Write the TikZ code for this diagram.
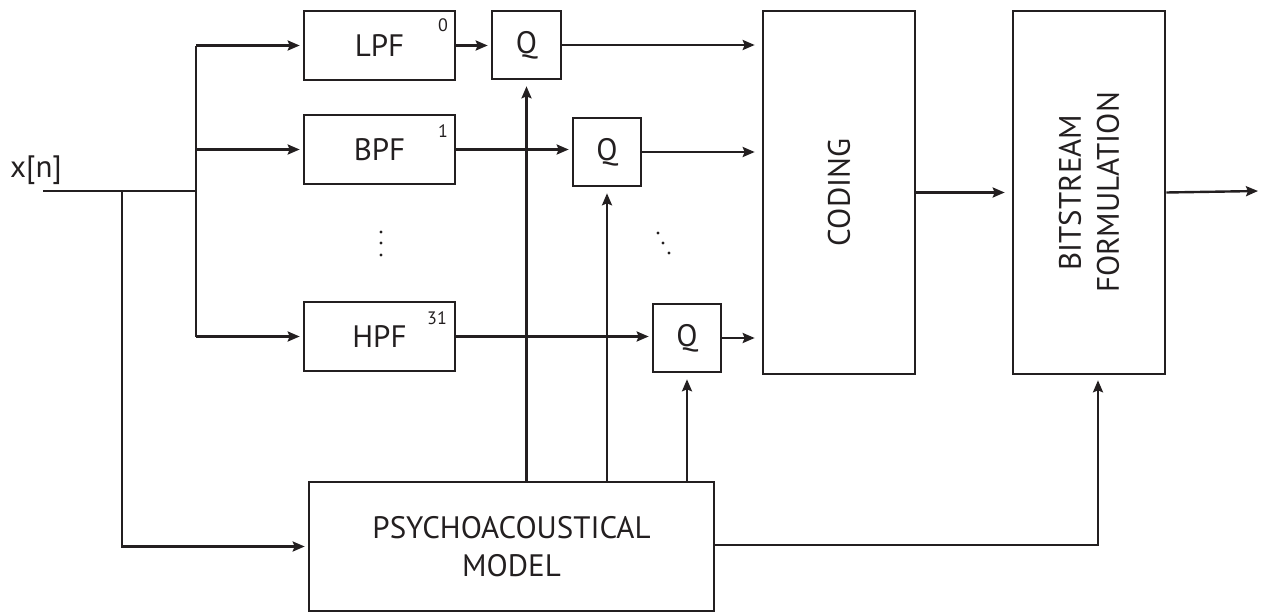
\documentclass[tikz,border=0pt]{standalone}
\usepackage{fontspec}
\setmainfont{PT Sans}
\usepackage{tikz}
\usetikzlibrary{positioning,calc}
\usetikzlibrary{arrows.meta}
\definecolor{InkBlack}{RGB}{35,31,32}
\tikzset{
	blk/.style={draw=InkBlack,line width=2.6pt,inner sep=0pt,text=InkBlack,
		font=\fontsize{31}{38}\selectfont,align=center},
	sig/.style={draw=InkBlack,line width=2.4pt},
	sigarr/.style={sig,-{Stealth[length=12pt,width=10pt,inset=2pt]},shorten >=3pt},
	idx/.style={font=\fontsize{18}{20}\selectfont,inner sep=0pt,text=InkBlack},
}

\begin{document}
\begin{tikzpicture}[x=1pt,y=-1pt]
			\useasboundingbox (0,0) rectangle (1262,613);
			\node[blk,minimum width=151pt,minimum height=69pt] (lpf) at (379.5,45.5) {LPF};
			\node[blk,minimum width=151pt,minimum height=69pt] (bpf) at (379.5,149.5) {BPF};
			\node[blk,minimum width=151pt,minimum height=69pt] (hpf) at (379.5,336.5) {HPF};
			\node[blk,minimum width=69pt,minimum height=68pt] (q0) at (526.5,45) {Q};
			\node[blk,minimum width=68pt,minimum height=68pt] (q1) at (607,152) {Q};
			\node[blk,minimum width=68pt,minimum height=68pt] (q31) at (687,338) {Q};
			\node[blk,rotate=90,minimum width=363pt,minimum height=152pt] (cod) at (839,192.5) {CODING};
			\node[blk,rotate=90,minimum width=363pt,minimum height=152pt] (bits) at (1089,192.5) {BITSTREAM\\FORMULATION};
			\node[blk,minimum width=405pt,minimum height=129pt] (psy) at (511.5,546.5) {PSYCHOACOUSTICAL\\MODEL};
			\node[idx] (n0) at (443,25) {0};
			\node[idx] (n1) at (443,131) {1};
			\node[idx] (n31) at (437,318) {31};
			\node[font=\fontsize{31}{34}\selectfont,text=InkBlack,inner sep=0pt] (xn) at (36,170) {x[n]};
			\coordinate (in) at (43,191);
			\coordinate (tap) at (122,191);
			\coordinate (bus) at (196,191);
			\coordinate (out) at (1258,191);
			\coordinate (side) at (1098,545);
			\draw[sig] (in) -- (bus);
			\draw[sig] (lpf.west -| bus) -- (hpf.west -| bus);
			\foreach \f in {lpf,bpf,hpf}
			\draw[sigarr] (\f.west -| bus) -- (\f.west);
			\draw[sigarr] (tap) |- (psy.west);
			\foreach \f/\q in {lpf/q0,bpf/q1,hpf/q31}
			\draw[sigarr] (\f.east) -- (\f.east -| \q.west);
			\foreach \q in {q0,q1,q31}
			\draw[sigarr,shorten >=7pt] (\q.east) -- (\q.east -| cod.north);
			\foreach \q in {q0,q1,q31}
			\draw[sigarr,shorten >=6pt] (psy.north -| \q) -- (\q.south);
			\draw[sigarr,shorten >=7pt] (cod.south) -- (bits.north);
			\draw[sigarr,shorten >=0pt] (bits.south) -- (out);
			\draw[sigarr,shorten >=5pt] (psy.east |- side) -- (side) -- (side |- bits.west);
			\foreach \y in {232,243,255} \fill[InkBlack] (381,\y) circle (1.6pt);
			\foreach \x/\y in {658/233,663/243,669/253} \fill[InkBlack] (\x,\y) circle (1.6pt);
		\end{tikzpicture}
\end{document}
